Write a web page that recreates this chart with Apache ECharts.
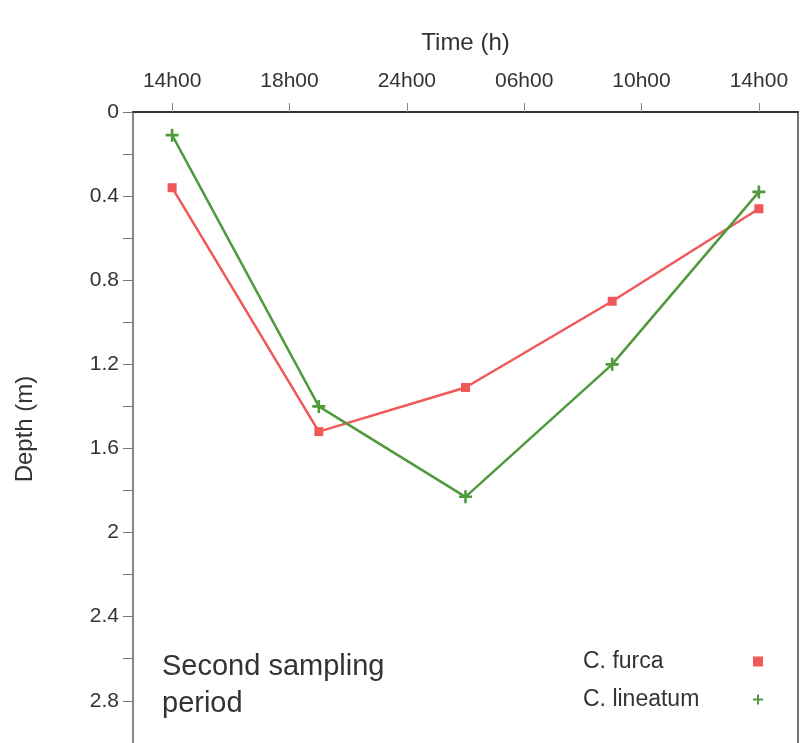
<!DOCTYPE html>
<html>
<head>
<meta charset="utf-8">
<script src="https://cdn.jsdelivr.net/npm/echarts@6/dist/echarts.min.js"></script>
<style>
html,body{margin:0;padding:0;background:#fff;}
#chart{width:800px;height:743px;}
</style>
</head>
<body>
<div id="chart"></div>
<script>
// ---- data ----
const timeLabels = ['14h00', '18h00', '24h00', '06h00', '10h00', '14h00'];
const timeTickHours = [0, 4.8, 9.6, 14.4, 19.2, 24];
const sampleHours = [0, 6, 12, 18, 24];
const furcaDepth = [0.36, 1.52, 1.31, 0.90, 0.46];
const lineatumDepth = [0.11, 1.40, 1.83, 1.20, 0.38];
const depthLabelValues = [0, 0.4, 0.8, 1.2, 1.6, 2, 2.4, 2.8];
const depthTickValues = [0, 0.2, 0.4, 0.6, 0.8, 1.0, 1.2, 1.4, 1.6, 1.8, 2.0, 2.2, 2.4, 2.6, 2.8, 3.0];
const seriesNames = ['C. furca', 'C. lineatum'];

const FONT = 'Liberation Sans, Arial, sans-serif';
const RED = '#f0585a';
const GREEN = '#4f9a3c';
const PLUS = 'path://M4,0H6V4H10V6H6V10H4V6H0V4H4Z';

function pairs(xs, ys) { return xs.map((x, i) => [x, ys[i]]); }

const chart = echarts.init(document.getElementById('chart'), null, { renderer: 'canvas' });
chart.setOption({
  backgroundColor: '#ffffff',
  animation: false,
  grid: {
    left: 133, right: 2, top: 112, height: 634,
    outerBoundsMode: 'none',
    containLabel: false,
    show: true, borderColor: '#444', borderWidth: 1.5, backgroundColor: 'transparent'
  },
  xAxis: {
    type: 'value',
    position: 'top',
    min: -1.6, max: 25.6,
    name: 'Time (h)',
    nameLocation: 'middle',
    nameGap: 57,
    nameTextStyle: { fontFamily: FONT, fontSize: 24, color: '#333' },
    splitLine: { show: false },
    axisLine: { show: true, onZero: false, lineStyle: { color: '#333', width: 2 } },
    axisTick: { show: true, inside: false, length: 9, customValues: timeTickHours, lineStyle: { color: '#888', width: 1 } },
    axisLabel: {
      customValues: timeTickHours,
      margin: 20,
      fontFamily: FONT, fontSize: 21, color: '#333',
      formatter: function (v) {
        let best = 0;
        timeTickHours.forEach((t, i) => { if (Math.abs(t - v) < Math.abs(timeTickHours[best] - v)) best = i; });
        return timeLabels[best];
      }
    }
  },
  yAxis: {
    type: 'value',
    inverse: true,
    min: 0, max: 3.015,
    name: 'Depth (m)',
    nameLocation: 'middle',
    nameGap: 96,
    nameRotate: 90,
    nameTextStyle: { fontFamily: FONT, fontSize: 24, color: '#333' },
    splitLine: { show: false },
    axisLine: { show: true, onZero: false, lineStyle: { color: '#888', width: 2 } },
    axisTick: { show: true, inside: false, length: 10, customValues: depthTickValues, lineStyle: { color: '#777', width: 1 } },
    axisLabel: {
      customValues: depthLabelValues,
      margin: 14,
      fontFamily: FONT, fontSize: 21, color: '#333',
      formatter: function (v) { return String(Math.round(v * 10) / 10); }
    }
  },
  legend: {
    data: [
      { name: seriesNames[0], icon: 'rect', itemStyle: { color: RED } },
      { name: seriesNames[1], icon: PLUS, itemStyle: { color: GREEN } }
    ],
    orient: 'vertical',
    align: 'right',
    left: 583,
    top: 650,
    padding: 0,
    itemGap: 15,
    itemWidth: 10,
    itemHeight: 10,
    formatter: function (name) { return '{a|' + name + '}'; },
    textStyle: {
      fontFamily: FONT, fontSize: 23, color: '#333',
      rich: { a: { width: 165, align: 'left', fontFamily: FONT, fontSize: 23, color: '#333' } }
    }
  },
  graphic: [{
    type: 'text',
    left: 162,
    top: 648,
    style: {
      text: 'Second sampling\nperiod',
      fontFamily: FONT,
      fontSize: 29,
      lineHeight: 37,
      fill: '#333'
    }
  }],
  series: [
    {
      name: seriesNames[0],
      type: 'line',
      data: pairs(sampleHours, furcaDepth),
      symbol: 'rect',
      symbolSize: 9,
      lineStyle: { color: RED, width: 2.5 },
      itemStyle: { color: RED },
      z: 3
    },
    {
      name: seriesNames[1],
      type: 'line',
      data: pairs(sampleHours, lineatumDepth),
      symbol: PLUS,
      symbolSize: 13,
      lineStyle: { color: GREEN, width: 2.5 },
      itemStyle: { color: GREEN },
      z: 4
    }
  ]
});
</script>
</body>
</html>
